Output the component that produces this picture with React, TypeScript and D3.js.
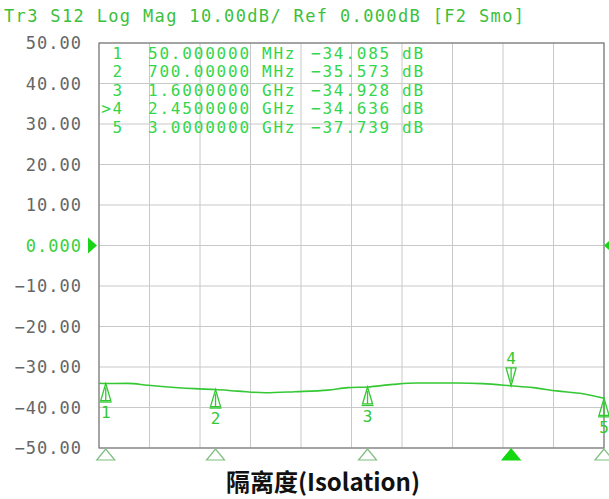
import React, { useEffect, useRef } from 'react';
import * as d3 from 'd3';

// trace S12, frequency in GHz, level in dB
const traceFreq = [0.01, 0.05, 0.18, 0.3, 0.578, 0.7, 0.833, 0.993, 1.17, 1.366, 1.484, 1.6, 1.75, 1.89, 2.13, 2.28, 2.45, 2.58, 2.72, 2.875, 3.0];
const traceDb = [-34.0, -34.085, -34.05, -34.5, -35.35, -35.573, -35.95, -36.35, -36.1, -35.7, -35.1, -34.928, -34.3, -33.95, -33.95, -34.1, -34.636, -35.1, -35.9, -36.6, -37.739];

const markerNames = ['1', '2', '3', '>4', '5'];
const markerFreq = [0.05, 0.7, 1.6, 2.45, 3.0];
const markerDb = [-34.085, -35.573, -34.928, -34.636, -37.739];
const activeMarker = 3;

const yTicks = [50, 40, 30, 20, 10, 0, -10, -20, -30, -40, -50];
const xDivisions = 10;

const header = 'Tr3 S12 Log Mag 10.00dB/ Ref 0.000dB [F2 Smo]';
const title = '隔离度(Isolation)';

const W = 609;
const H = 499;
const mono = '"DejaVu Sans Mono", "Liberation Mono", monospace';

const App: React.FC = () => {
  const ref = useRef<SVGSVGElement>(null);

  useEffect(() => {
    if (!ref.current) return;
    const svg = d3.select(ref.current);
    svg.selectAll('*').remove();

    const x = d3.scaleLinear().domain([0.01, 3]).range([99, 604]);
    const y = d3.scaleLinear().domain([-50, 50]).range([448, 43]);

    svg.append('rect').attr('width', W).attr('height', H).attr('fill', '#fff');

    // grid
    const g = svg.append('g');
    yTicks.forEach(t => {
      g.append('line')
        .attr('x1', x.range()[0]).attr('x2', x.range()[1])
        .attr('y1', y(t)).attr('y2', y(t))
        .attr('stroke', '#c8c8c8').attr('stroke-width', 1);
    });
    d3.range(xDivisions + 1).forEach(i => {
      const xv = x.range()[0] + (i * (x.range()[1] - x.range()[0])) / xDivisions;
      g.append('line')
        .attr('x1', xv).attr('x2', xv)
        .attr('y1', y(50)).attr('y2', y(-50))
        .attr('stroke', '#c8c8c8').attr('stroke-width', 1);
    });
    g.append('rect')
      .attr('x', x.range()[0]).attr('y', y(50))
      .attr('width', x.range()[1] - x.range()[0]).attr('height', y(-50) - y(50))
      .attr('fill', 'none').attr('stroke', '#7a7a7a').attr('stroke-width', 1.2);

    // y labels
    yTicks.forEach(t => {
      svg.append('text')
        .attr('x', 82).attr('y', y(t)).attr('dy', '0.36em')
        .attr('text-anchor', 'end')
        .style('font-family', mono).style('font-size', '17px').style('letter-spacing', '1px')
        .attr('fill', t === 0 ? '#3ccf3c' : '#666')
        .text(t === 0 ? '0.000' : d3.format('.2f')(t));
    });

    // reference pointers
    svg.append('path')
      .attr('d', `M88,${y(0) - 8} L97,${y(0)} L88,${y(0) + 8} Z`)
      .attr('fill', '#19d419');
    svg.append('path')
      .attr('d', `M613,${y(0) - 8} L604,${y(0)} L613,${y(0) + 8} Z`)
      .attr('fill', '#19d419');

    // header
    svg.append('text')
      .attr('x', 4).attr('y', 22)
      .style('font-family', mono).style('font-size', '17px').style('letter-spacing', '1.35px')
      .attr('fill', '#3cbf3c')
      .text(header);

    // marker table
    const fmtFreq = (f: number) => f < 1 ? `${d3.format('.8r')(f * 1000)}` : `${d3.format('.8r')(f)}`;
    markerNames.forEach((name, i) => {
      const ry = 53 + i * 18.5;
      const row = svg.append('g')
        .style('font-family', mono).style('font-size', '16px').style('letter-spacing', '1.8px')
        .attr('fill', '#33d64a');
      row.append('text').attr('x', 124).attr('y', ry).attr('dy', '0.36em').attr('text-anchor', 'end').text(name);
      row.append('text').attr('x', 148).attr('y', ry).attr('dy', '0.36em').text(fmtFreq(markerFreq[i]));
      row.append('text').attr('x', 262).attr('y', ry).attr('dy', '0.36em').text(markerFreq[i] < 1 ? 'MHz' : 'GHz');
      row.append('text').attr('x', 311).attr('y', ry).attr('dy', '0.36em').text(d3.format('.3f')(markerDb[i]));
      row.append('text').attr('x', 402).attr('y', ry).attr('dy', '0.36em').text('dB');
    });

    // trace
    const line = d3.line<number>()
      .x((_, i) => x(traceFreq[i]))
      .y(d => y(d))
      .curve(d3.curveMonotoneX);
    svg.append('path')
      .datum(traceDb)
      .attr('d', line)
      .attr('fill', 'none')
      .attr('stroke', '#35c835')
      .attr('stroke-width', 1.6);

    // markers on trace
    markerNames.forEach((name, i) => {
      const mx = x(markerFreq[i]);
      const my = y(markerDb[i]);
      const label = name.replace('>', '');
      const mg = svg.append('g').attr('stroke', '#33c833').attr('fill', 'none').attr('stroke-width', 1.3);
      if (i === activeMarker) {
        mg.append('path').attr('d', `M${mx},${my} L${mx - 5},${my - 18} L${mx + 5},${my - 18} Z`);
        mg.append('line').attr('x1', mx).attr('x2', mx).attr('y1', my - 4).attr('y2', my - 18);
        svg.append('text').attr('x', mx).attr('y', my - 28).attr('dy', '0.36em')
          .attr('text-anchor', 'middle').style('font-family', mono).style('font-size', '16px')
          .attr('fill', '#33c833').text(label);
      } else {
        mg.append('path').attr('d', `M${mx},${my} L${mx - 5},${my + 17} L${mx + 5},${my + 17} Z`);
        mg.append('line').attr('x1', mx - 6).attr('x2', mx + 6).attr('y1', my + 18.5).attr('y2', my + 18.5);
        mg.append('line').attr('x1', mx).attr('x2', mx).attr('y1', my + 4).attr('y2', my + 17);
        svg.append('text').attr('x', mx).attr('y', my + 29).attr('dy', '0.36em')
          .attr('text-anchor', 'middle').style('font-family', mono).style('font-size', '16px')
          .attr('fill', '#33c833').text(label);
      }
      // marker position on the x axis
      const by = y(-50) + 1;
      svg.append('path')
        .attr('d', `M${mx},${by} L${mx - 9},${by + 11} L${mx + 9},${by + 11} Z`)
        .attr('fill', i === activeMarker ? '#12d812' : 'none')
        .attr('stroke', i === activeMarker ? '#12d812' : '#7fbf7f')
        .attr('stroke-width', 1.2);
    });

    // caption
    svg.append('text')
      .attr('x', 323).attr('y', 491)
      .attr('text-anchor', 'middle')
      .style('font-family', '"Noto Sans CJK SC", "Noto Sans", sans-serif')
      .style('font-size', '24px').style('font-weight', 'bold')
      .attr('fill', '#111')
      .text(title);
  }, []);

  return (
    <svg ref={ref} width={W} height={H}
      style={{ position: 'absolute', left: 0, top: 0, display: 'block' }} />
  );
};

export default App;
